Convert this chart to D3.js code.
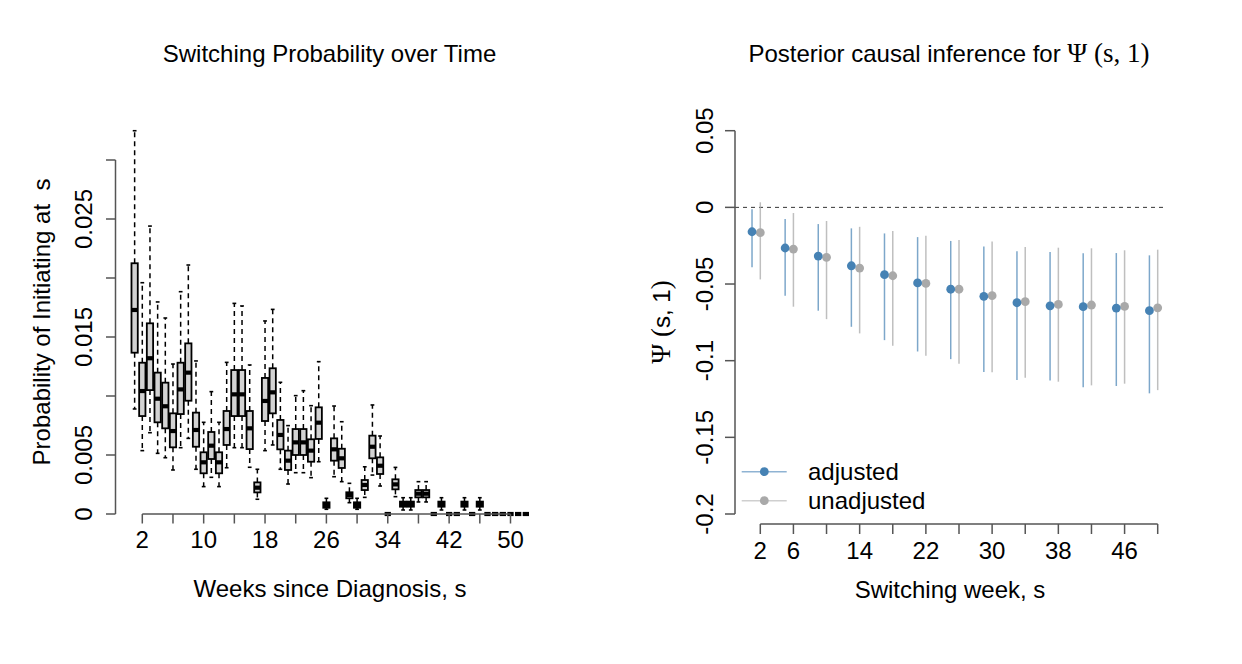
<!DOCTYPE html>
<html>
<head>
<meta charset="utf-8">
<script src="https://cdn.jsdelivr.net/npm/d3@7"></script>
<style>
  body { margin: 0; background: #fff; }
  svg { display: block; }
  text { font-family: "Liberation Sans", Arial, sans-serif; fill: #000; }
  .serif { font-family: "Liberation Serif", "Times New Roman", serif; }
</style>
</head>
<body>
<svg id="chart" width="1242" height="664"></svg>
<script>
// ---------- Left panel data: switching probability boxplots ----------
const weeks = d3.range(1, 53);
const whiskerLow = [0.0089,0.00537,0.00689,0.00514,0.00477,0.00373,0.00562,0.00641,0.00379,0.00232,
  0.00311,0.00232,0.00392,0.00562,0.00562,0.00396,0.00125,0.00537,0.00585,0.00379,
  0.00254,0.0035,0.0035,0.00308,0.00443,0.0004,0.00316,0.00274,0.00096,0.0004,
  0.00141,0.0033,0.00237,0,0.00147,0.00034,0.00034,0.00102,0.00102,0,
  0.00034,0,0,0.00034,0,0.00034,0,0,0,0,0,0];
const quart1 = [0.01367,0.0083,0.0105,0.00777,0.00726,0.00565,0.00847,0.0096,0.0057,0.00345,
  0.00466,0.00345,0.00585,0.0083,0.0083,0.0055,0.00183,0.00788,0.00853,0.00548,
  0.00373,0.005,0.005,0.00443,0.00636,0.00053,0.00452,0.0039,0.00133,0.00053,
  0.00203,0.00472,0.00339,0,0.00209,0.00062,0.00062,0.00141,0.00141,0,
  0.00062,0,0,0.00062,0,0.00062,0,0,0,0,0,0];
const medians = [0.01729,0.01042,0.0132,0.00977,0.00913,0.00703,0.01056,0.01198,0.00712,0.00438,
  0.00579,0.00438,0.0072,0.01014,0.01014,0.00726,0.00223,0.00958,0.01031,0.0067,
  0.00452,0.00607,0.00607,0.00537,0.00774,0.00077,0.00548,0.00472,0.00161,0.00077,
  0.00246,0.0057,0.00409,0,0.00251,0.00085,0.00085,0.00172,0.00172,0,
  0.00085,0,0,0.00085,0,0.00085,0,0,0,0,0,0];
const quart3 = [0.02125,0.01282,0.01616,0.01198,0.01113,0.00853,0.01282,0.01446,0.00859,0.00523,
  0.00695,0.00523,0.00873,0.0122,0.0122,0.00873,0.00268,0.01153,0.01235,0.00797,
  0.00537,0.0072,0.0072,0.00633,0.00904,0.00099,0.00641,0.00553,0.00184,0.00099,
  0.00288,0.00664,0.0048,0,0.00294,0.00105,0.00105,0.00203,0.00203,0,
  0.00105,0,0,0.00105,0,0.00105,0,0,0,0,0,0];
const whiskerHigh = [0.03248,0.0196,0.0244,0.01797,0.01661,0.01271,0.01884,0.0211,0.01297,0.00777,
  0.01037,0.00777,0.01285,0.01785,0.01763,0.01263,0.00379,0.01636,0.01734,0.01116,
  0.00749,0.01003,0.01045,0.00918,0.01291,0.00133,0.00915,0.00782,0.0026,0.00133,
  0.004,0.00924,0.00661,0,0.00395,0.00138,0.00138,0.00274,0.00274,0,
  0.00138,0,0,0.00138,0,0.00138,0,0,0,0,0,0];
const leftXTicks = d3.range(2, 51, 4);
const leftXLabels = [2, 10, 18, 26, 34, 42, 50];
const leftYTicks = [0, 0.005, 0.01, 0.015, 0.02, 0.025, 0.03];
const leftYLabels = [0, 0.005, 0.015, 0.025];

// ---------- Right panel data: posterior causal inference ----------
const switchWeeks = [2, 6, 10, 14, 18, 22, 26, 30, 34, 38, 42, 46, 50];
const adjEst = [-0.0159,-0.0265,-0.0318,-0.0381,-0.0439,-0.0493,-0.0534,-0.058,-0.0622,-0.0642,-0.0648,-0.0657,-0.0674];
const adjLo  = [-0.0391,-0.0577,-0.0674,-0.0779,-0.0866,-0.094,-0.099,-0.1074,-0.1126,-0.113,-0.1174,-0.1165,-0.1213];
const adjHi  = [-0.0013,-0.0076,-0.0109,-0.0137,-0.017,-0.0194,-0.0219,-0.0256,-0.0287,-0.0291,-0.03,-0.0298,-0.0313];
const unadjEst = [-0.0165,-0.0272,-0.0326,-0.0396,-0.0446,-0.0496,-0.0534,-0.0576,-0.0615,-0.0633,-0.0637,-0.0646,-0.0655];
const unadjLo  = [-0.047,-0.0648,-0.0729,-0.0822,-0.0903,-0.0968,-0.102,-0.1076,-0.1111,-0.1137,-0.1161,-0.115,-0.1192];
const unadjHi  = [0.0033,-0.0037,-0.0089,-0.0127,-0.0155,-0.0185,-0.0213,-0.0222,-0.0259,-0.0263,-0.0267,-0.028,-0.0276];
const rightXTicks = d3.range(2, 51, 4);
const rightXLabels = [2, 6, 14, 22, 30, 38, 46];
const rightYTicks = [0.05, 0, -0.05, -0.1, -0.15, -0.2];
const legendLabels = ["adjusted", "unadjusted"];

// ---------- drawing ----------
const svg = d3.select("#chart");
const axisColor = "#555";
const FS = 24;

function fmt(v) { return v === 0 ? "0" : String(v); }

// ===== Left panel =====
const xL = d3.scaleLinear().domain([2, 50]).range([142.3, 510.5]);
const yL = d3.scaleLinear().domain([0, 0.03]).range([514, 160]);
const gL = svg.append("g");
const step = xL(3) - xL(2);
const hw = step * 0.41;
const capW = hw * 0.6;

const boxes = weeks.map((w, i) => ({w, lo: whiskerLow[i], q1: quart1[i], md: medians[i], q3: quart3[i], hi: whiskerHigh[i]}));

gL.selectAll(".wh").data(boxes).join("g").each(function(d) {
  const g = d3.select(this), x = xL(d.w);
  g.append("line").attr("x1", x).attr("x2", x).attr("y1", yL(d.q3)).attr("y2", yL(d.hi))
    .attr("stroke", "#000").attr("stroke-width", 1.5).attr("stroke-dasharray", "5,4");
  g.append("line").attr("x1", x).attr("x2", x).attr("y1", yL(d.q1)).attr("y2", yL(d.lo))
    .attr("stroke", "#000").attr("stroke-width", 1.5).attr("stroke-dasharray", "5,4");
  g.append("line").attr("x1", x - capW).attr("x2", x + capW).attr("y1", yL(d.hi)).attr("y2", yL(d.hi))
    .attr("stroke", "#000").attr("stroke-width", 1.6);
  g.append("line").attr("x1", x - capW).attr("x2", x + capW).attr("y1", yL(d.lo)).attr("y2", yL(d.lo))
    .attr("stroke", "#000").attr("stroke-width", 1.6);
  g.append("rect").attr("x", x - hw).attr("width", hw * 2)
    .attr("y", yL(d.q3)).attr("height", Math.max(0, yL(d.q1) - yL(d.q3)))
    .attr("fill", "#d3d3d3").attr("stroke", "#000").attr("stroke-width", 1.8);
  g.append("line").attr("x1", x - hw).attr("x2", x + hw).attr("y1", yL(d.md)).attr("y2", yL(d.md))
    .attr("stroke", "#000").attr("stroke-width", 4.2);
});

// left x axis
const axL = gL.append("g");
axL.append("line").attr("x1", xL(2)).attr("x2", xL(50)).attr("y1", 514).attr("y2", 514)
  .attr("stroke", axisColor).attr("stroke-width", 1.5);
axL.selectAll(".t").data(leftXTicks).join("line")
  .attr("x1", d => xL(d)).attr("x2", d => xL(d)).attr("y1", 514).attr("y2", 523.5)
  .attr("stroke", axisColor).attr("stroke-width", 1.5);
axL.selectAll(".l").data(leftXLabels).join("text")
  .attr("x", d => xL(d)).attr("y", 548).attr("text-anchor", "middle").attr("font-size", FS).text(d => d);
// left y axis
axL.append("line").attr("x1", 115.5).attr("x2", 115.5).attr("y1", yL(0.03)).attr("y2", yL(0))
  .attr("stroke", axisColor).attr("stroke-width", 1.5);
axL.selectAll(".yt").data(leftYTicks).join("line")
  .attr("x1", 106).attr("x2", 115.5).attr("y1", d => yL(d)).attr("y2", d => yL(d))
  .attr("stroke", axisColor).attr("stroke-width", 1.5);
axL.selectAll(".yl").data(leftYLabels).join("text")
  .attr("transform", d => `translate(92,${yL(d)}) rotate(-90)`)
  .attr("text-anchor", "middle").attr("font-size", FS).text(fmt);
// left titles
svg.append("text").attr("x", 329.5).attr("y", 62).attr("text-anchor", "middle").attr("font-size", FS)
  .text("Switching Probability over Time");
svg.append("text").attr("x", 330).attr("y", 597).attr("text-anchor", "middle").attr("font-size", FS)
  .text("Weeks since Diagnosis, s");
svg.append("text").attr("transform", "translate(50,322) rotate(-90)").attr("text-anchor", "middle")
  .attr("font-size", FS).attr("xml:space", "preserve").text("Probability of Initiating at  s");

// ===== Right panel =====
const xR = d3.scaleLinear().domain([2, 50]).range([760.3, 1157.7]);
const yR = d3.scaleLinear().domain([-0.2, 0.05]).range([514, 130.7]);
const gR = svg.append("g");
const off = xR(1) - xR(0);
const blue = "#4682b4", gray = "#a9a9a9";

gR.append("line").attr("x1", 735).attr("x2", 1165).attr("y1", yR(0)).attr("y2", yR(0))
  .attr("stroke", "#333").attr("stroke-width", 1).attr("stroke-dasharray", "4,4");

const pts = switchWeeks.map((s, i) => ({s, ae: adjEst[i], al: adjLo[i], ah: adjHi[i], ue: unadjEst[i], ul: unadjLo[i], uh: unadjHi[i]}));
gR.selectAll(".ciA").data(pts).join("line")
  .attr("x1", d => xR(d.s) - off).attr("x2", d => xR(d.s) - off)
  .attr("y1", d => yR(d.ah)).attr("y2", d => yR(d.al))
  .attr("stroke", blue).attr("stroke-opacity", 0.7).attr("stroke-width", 1.5);
gR.selectAll(".ciU").data(pts).join("line")
  .attr("x1", d => xR(d.s)).attr("x2", d => xR(d.s))
  .attr("y1", d => yR(d.uh)).attr("y2", d => yR(d.ul))
  .attr("stroke", gray).attr("stroke-opacity", 0.75).attr("stroke-width", 1.5);
gR.selectAll(".pU").data(pts).join("circle")
  .attr("cx", d => xR(d.s)).attr("cy", d => yR(d.ue)).attr("r", 4.4).attr("fill", gray);
gR.selectAll(".pA").data(pts).join("circle")
  .attr("cx", d => xR(d.s) - off).attr("cy", d => yR(d.ae)).attr("r", 4.4).attr("fill", blue);

// right x axis
gR.append("line").attr("x1", xR(2)).attr("x2", xR(50)).attr("y1", 524).attr("y2", 524)
  .attr("stroke", axisColor).attr("stroke-width", 1.5);
gR.selectAll(".xt").data(rightXTicks).join("line")
  .attr("x1", d => xR(d)).attr("x2", d => xR(d)).attr("y1", 524).attr("y2", 534)
  .attr("stroke", axisColor).attr("stroke-width", 1.5);
gR.selectAll(".xl").data(rightXLabels).join("text")
  .attr("x", d => xR(d)).attr("y", 559).attr("text-anchor", "middle").attr("font-size", FS).text(d => d);
// right y axis
gR.append("line").attr("x1", 735).attr("x2", 735).attr("y1", yR(0.05)).attr("y2", yR(-0.2))
  .attr("stroke", axisColor).attr("stroke-width", 1.5);
gR.selectAll(".yt").data(rightYTicks).join("line")
  .attr("x1", 725).attr("x2", 735).attr("y1", d => yR(d)).attr("y2", d => yR(d))
  .attr("stroke", axisColor).attr("stroke-width", 1.5);
gR.selectAll(".yl").data(rightYTicks).join("text")
  .attr("transform", d => `translate(713,${yR(d)}) rotate(-90)`)
  .attr("text-anchor", "middle").attr("font-size", FS).text(fmt);

// right titles
const tR = svg.append("text").attr("x", 949).attr("y", 62).attr("text-anchor", "middle").attr("font-size", FS);
tR.append("tspan").text("Posterior causal inference for ");
tR.append("tspan").attr("class", "serif").attr("font-size", 27).text("Ψ (s, 1)");
svg.append("text").attr("x", 950).attr("y", 598).attr("text-anchor", "middle").attr("font-size", FS)
  .text("Switching week, s");
const yt = svg.append("text").attr("transform", "translate(670,322) rotate(-90)")
  .attr("text-anchor", "middle").attr("font-size", FS);
yt.append("tspan").attr("class", "serif").attr("font-size", 27).text("Ψ (");
yt.append("tspan").text("s, 1");
yt.append("tspan").attr("class", "serif").attr("font-size", 27).text(")");

// legend
const legColors = [blue, gray];
const legLine = ["#8fb3d3", "#cfcfcf"];
const lg = gR.selectAll(".leg").data(legendLabels).join("g")
  .attr("transform", (d, i) => `translate(0,${471.7 + i * 29})`);
lg.append("line").attr("x1", 741.7).attr("x2", 786.7).attr("y1", 0).attr("y2", 0)
  .attr("stroke", (d, i) => legLine[i]).attr("stroke-width", 1.5);
lg.append("circle").attr("cx", 764.3).attr("cy", 0).attr("r", 4.4).attr("fill", (d, i) => legColors[i]);
lg.append("text").attr("x", 808).attr("y", 8.5).attr("font-size", FS).text(d => d);
</script>
</body>
</html>
